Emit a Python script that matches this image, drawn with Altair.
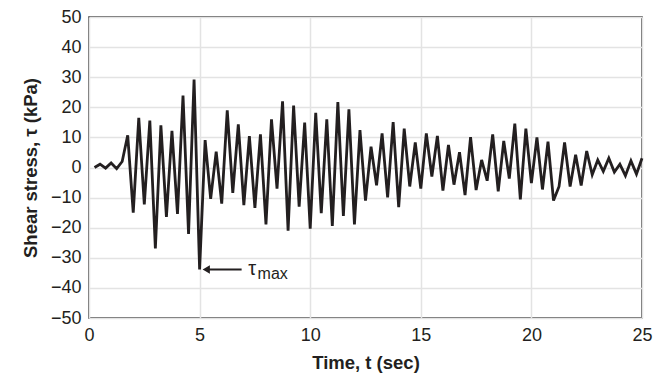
import altair as alt
import pandas as pd

# Time (sec) and shear stress (kPa)
time_s = [0.25 * k for k in range(1, 101)]
stress_kpa = [
    0, 1.1, -0.2, 1.5, -0.4, 2, 10.7, -15, 16.5, -12.3,
    15.6, -26.9, 14, -16.4, 12.2, -15.4, 23.9, -22.1, 29.2, -33.9,
    9.1, -10.4, 5.3, -12, 19, -8.4, 14.3, -12.5, 10.4, -13.4,
    11, -18.9, 16, -7, 22, -21, 20.6, -13, 14.9, -20.3,
    18.2, -15.2, 16, -19.4, 21.7, -16.1, 19.3, -18.9, 12.4, -11,
    6.9, -5.9, 11.3, -9.9, 15.1, -13.2, 12.9, -6.3, 8.3, -7,
    11.3, -3, 10.5, -7.7, 7.5, -5.7, 5.1, -9.2, 10.1, -7.5,
    2.5, -4.4, 11, -7.9, 8.8, -3.7, 14.6, -10.6, 12.9, -5.2,
    10, -7.3, 8.6, -11, -6.3, 8.3, -6.3, 4.2, -6, 5.5,
    -2.4, 2.5, -1.3, 3.1, -1.5, 1.1, -2.7, 2.2, -2.2, 3.1,
]
x_ticks = [0, 5, 10, 15, 20, 25]
y_ticks = [-50, -40, -30, -20, -10, 0, 10, 20, 30, 40, 50]
annot_label = "τ"
annot_sub = "max"

df = pd.DataFrame({"t": time_s, "tau": stress_kpa})

# τmax location (minimum value)
imin = min(range(len(stress_kpa)), key=lambda i: stress_kpa[i])
tmin, vmin = time_s[imin], stress_kpa[imin]

INK = "#231f20"
FONT = "Liberation Sans"

xs = alt.Scale(domain=[0, 25], nice=False, zero=False)
ys = alt.Scale(domain=[-50, 50], nice=False)
ax_x = alt.Axis(values=x_ticks, tickCount=6, title="Time, t (sec)", format="d",
                labelOverlap=False, titlePadding=9)
ax_y = alt.Axis(values=y_ticks, tickCount=11, title="Shear stress, τ (kPa)", format="d",
                labelOverlap=False, titlePadding=10)


def X(f):
    return alt.X(f, scale=xs, axis=ax_x)


def Y(f):
    return alt.Y(f, scale=ys, axis=ax_y)


line = alt.Chart(df).mark_line(color=INK, strokeWidth=2.8, strokeJoin="miter").encode(
    x=X("t:Q"), y=Y("tau:Q"),
)

arrow_df = pd.DataFrame({"x1": [tmin + 0.35], "x2": [tmin + 1.9], "y": [vmin]})
arrow_line = alt.Chart(arrow_df).mark_rule(color=INK, strokeWidth=2).encode(
    x=X("x1:Q"), x2="x2:Q", y=Y("y:Q")
)
head_df = pd.DataFrame({"x": [tmin + 0.3], "y": [vmin]})
arrow_head = alt.Chart(head_df).mark_point(
    shape="triangle-left", filled=True, color=INK, size=70, opacity=1
).encode(x=X("x:Q"), y=Y("y:Q"))

lab_df = pd.DataFrame({"x": [tmin + 2.2], "y": [vmin], "txt": [annot_label]})
lab = alt.Chart(lab_df).mark_text(
    align="left", baseline="middle", font=FONT, fontSize=20, color=INK, dy=-1
).encode(x=X("x:Q"), y=Y("y:Q"), text="txt:N")
sub_df = pd.DataFrame({"x": [tmin + 2.62], "y": [vmin], "txt": [annot_sub]})
sub = alt.Chart(sub_df).mark_text(
    align="left", baseline="middle", font=FONT, fontSize=16, color=INK, dy=4
).encode(x=X("x:Q"), y=Y("y:Q"), text="txt:N")

chart = alt.layer(line, arrow_line, arrow_head, lab, sub).properties(
    width=553, height=301,
    autosize=alt.AutoSizeParams(type="none"),
    padding={"left": 81, "top": 9, "right": 13, "bottom": 58},
).configure_view(
    stroke="#333333", strokeWidth=1.5
).configure_axis(
    domain=False, ticks=False,
    grid=True, gridColor="#e3e3e3", gridWidth=1.5,
    labelFont=FONT, labelFontSize=18, labelColor=INK, labelPadding=8,
    labelBound=False, labelFlush=False, labelOverlap=False,
    titleFont=FONT, titleFontSize=18.5, titleFontWeight="bold", titleColor=INK,
)

chart.save("out.html", embed_options={"renderer": "svg", "actions": False})
